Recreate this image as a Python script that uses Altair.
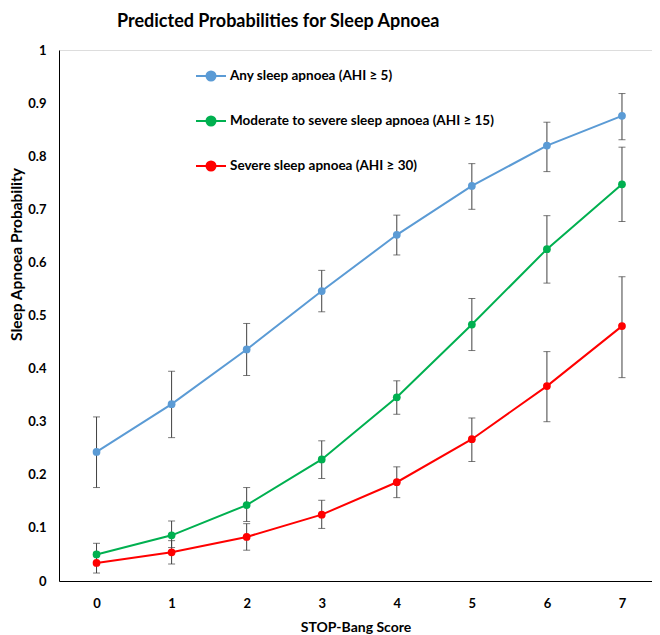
import altair as alt
import pandas as pd

# STOP-Bang score categories
scores = [0, 1, 2, 3, 4, 5, 6, 7]

series_names = [
    "Any sleep apnoea (AHI ≥ 5)",
    "Moderate to severe sleep apnoea (AHI ≥ 15)",
    "Severe sleep apnoea (AHI ≥ 30)",
]
series_colors = ["#5B9BD5", "#00B050", "#FF0000"]

any_p = [0.243, 0.333, 0.436, 0.546, 0.652, 0.744, 0.820, 0.876]
any_lo = [0.176, 0.270, 0.387, 0.507, 0.614, 0.700, 0.771, 0.831]
any_hi = [0.309, 0.395, 0.485, 0.585, 0.689, 0.786, 0.864, 0.918]

mod_p = [0.050, 0.086, 0.143, 0.229, 0.346, 0.483, 0.625, 0.747]
mod_lo = [0.033, 0.063, 0.112, 0.193, 0.314, 0.434, 0.561, 0.677]
mod_hi = [0.071, 0.113, 0.176, 0.264, 0.377, 0.532, 0.688, 0.817]

sev_p = [0.034, 0.054, 0.083, 0.125, 0.186, 0.267, 0.367, 0.480]
sev_lo = [0.015, 0.032, 0.058, 0.099, 0.157, 0.225, 0.300, 0.383]
sev_hi = [0.054, 0.076, 0.108, 0.152, 0.215, 0.307, 0.432, 0.573]

rows = []
for name, p, lo, hi in zip(series_names,
                           [any_p, mod_p, sev_p],
                           [any_lo, mod_lo, sev_lo],
                           [any_hi, mod_hi, sev_hi]):
    for s, v, l, h in zip(scores, p, lo, hi):
        rows.append({"series": name, "score": s, "p": v, "lo": l, "hi": h})
df = pd.DataFrame(rows)

FONT = "Lato"
ERR = "#404040"

xscale = alt.Scale(domain=[-0.5, 7.4], nice=False, zero=False)
yscale = alt.Scale(domain=[0, 1], nice=False)
cscale = alt.Scale(domain=series_names, range=series_colors)

xaxis = alt.Axis(values=scores, title="STOP-Bang Score", grid=False, ticks=False,
                 domainColor="black", domainWidth=1, labelFont=FONT, labelFontWeight="bold",
                 labelFontSize=13, labelColor="black", labelPadding=16,
                 titleFont=FONT, titleFontSize=14, titleFontWeight="bold",
                 titleColor="black", titlePadding=10, labelFlush=False)
yaxis = alt.Axis(values=[i / 10 for i in range(11)], format="~g",
                 title="Sleep Apnoea Probability", grid=False, ticks=False,
                 domainColor="black", domainWidth=1, labelFont=FONT, labelFontWeight="bold",
                 labelFontSize=13, labelColor="black", labelPadding=13,
                 titleFont=FONT, titleFontSize=15.5, titleFontWeight="bold",
                 titleColor="black", titleX=-35, titleY=204, labelFlush=False)

base = alt.Chart(df)

X = alt.X("score:Q", scale=xscale, axis=xaxis)

err = base.mark_rule(color=ERR, strokeWidth=1).encode(
    x=X, y=alt.Y("lo:Q", scale=yscale, axis=yaxis), y2="hi:Q"
)
cap_lo = base.mark_tick(color=ERR, orient="horizontal", size=7, thickness=1).encode(
    x=X, y=alt.Y("lo:Q", scale=yscale)
)
cap_hi = base.mark_tick(color=ERR, orient="horizontal", size=7, thickness=1).encode(
    x=X, y=alt.Y("hi:Q", scale=yscale)
)

legend_path = "M-1,0H1M-0.3,0A0.3,0.3 0 1,0 0.3,0A0.3,0.3 0 1,0 -0.3,0Z"
leg = alt.Legend(title=None, orient="none", legendX=136, legendY=10, padding=0,
                 symbolType=legend_path, symbolSize=900, symbolStrokeWidth=2,
                 labelFont=FONT, labelFontSize=13.5, labelFontWeight="bold",
                 labelColor="black", labelOffset=3, rowPadding=20,
                 labelLimit=400)

line = base.mark_line(strokeWidth=2).encode(
    x=X, y=alt.Y("p:Q", scale=yscale),
    color=alt.Color("series:N", scale=cscale, legend=leg),
    detail="series:N",
)

pts = base.mark_point(filled=True, size=60, opacity=1).encode(
    x=X, y=alt.Y("p:Q", scale=yscale),
    color=alt.Color("series:N", scale=cscale, legend=leg),
)

chart = alt.layer(err, cap_lo, cap_hi, line, pts).properties(
    width=593, height=531,
    padding={"left": 51, "top": 42, "right": 0, "bottom": 54},
    autosize=alt.AutoSizeParams(type="none"),
    title=alt.TitleParams("Predicted Probabilities for Sleep Apnoea", anchor="start",
                          frame="group", dx=58, offset=13, font=FONT, fontSize=18,
                          fontWeight="bold", color="black"),
).configure_view(stroke=None).configure(background="white")

chart.save("out.html", embed_options={"renderer": "svg", "actions": False})
